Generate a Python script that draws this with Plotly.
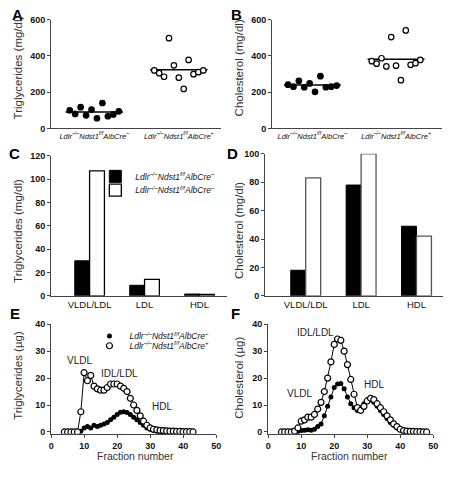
import plotly.graph_objects as go

FONT = "Liberation Sans, Arial, sans-serif"
W, H = 452, 479

# ---------------- data ----------------
group_labels = [
    "<i>Ldlr<sup>–/–</sup>Ndst1<sup>f/f</sup>AlbCre<sup>–</sup></i>",
    "<i>Ldlr<sup>–/–</sup>Ndst1<sup>f/f</sup>AlbCre<sup>+</sup></i>",
]
legend_neg = "<i>Ldlr<sup>–/–</sup>Ndst1<sup>f/f</sup>AlbCre<sup>–</sup></i>"
legend_pos_c = "<i>Ldlr<sup>–/–</sup>Ndst1<sup>f/f</sup>AlbCre<sup>–</sup></i>"
legend_pos_e = "<i>Ldlr<sup>–/–</sup>Ndst1<sup>f/f</sup>AlbCre<sup>+</sup></i>"

# Panel A: plasma triglycerides (mg/dl)
tg_cre_neg = [100, 80, 117, 72, 104, 56, 140, 67, 77, 94]
tg_cre_pos = [320, 305, 285, 498, 348, 280, 218, 378, 299, 310, 320]
# Panel B: plasma cholesterol (mg/dl)
chol_cre_neg = [241, 230, 262, 227, 248, 202, 288, 227, 230, 236]
chol_cre_pos = [371, 357, 387, 342, 504, 346, 266, 541, 351, 360, 378]

# Panels C/D: lipoprotein classes
lipo_classes = ["VLDL/LDL", "LDL", "HDL"]
tg_class_neg = [30, 9, 1.5]
tg_class_pos = [107, 14, 1.2]
chol_class_neg = [18, 78, 49]
chol_class_pos = [83, 100, 42]

# Panel E: FPLC triglycerides (µg) per fraction
fractions_e = list(range(4, 44))
tg_frac_neg = [0, 0, 0, 0, 0, 0.3, 1.5, 2, 1.5, 2.5, 2, 2.5, 3, 3.5, 4.5, 5.5,
               6.5, 7.3, 7.5, 7.2, 6.5, 5.5, 4.5, 3.5, 2.5, 1.5, 1, 0.5, 0.3,
               0, 0, 0, 0, 0, 0, 0, 0, 0, 0, 0]
tg_frac_pos = [0, 0, 0, 0, 0, 7.5, 22, 19, 21, 17, 16, 15.5, 15.5, 16.5, 17.8,
               17.8, 17.8, 17, 16.2, 15, 12.5, 10, 8, 6, 4, 2.5, 1.5, 1, 0.8,
               0.6, 0.5, 0.4, 0.3, 0.3, 0.2, 0.2, 0.1, 0.1, 0.1, 0]
# Panel F: FPLC cholesterol (µg) per fraction
fractions_f = list(range(4, 49))
chol_frac_neg = [0, 0, 0, 0, 0, 0.2, 0.5, 0.6, 0.8, 0.6, 1, 2, 3, 6, 9.5, 13,
                 16.5, 17.8, 18, 16, 13, 10.5, 9, 8, 9, 10.5, 12, 12, 11, 9.5,
                 8, 6.5, 5, 3.5, 2.5, 1.5, 0.7, 0.3, 0.1, 0, 0, 0, 0, 0, 0]
chol_frac_pos = [0, 0, 0, 0, 0.3, 1.5, 4, 4.5, 5.5, 5.5, 6.5, 8.5, 11, 15, 20,
                 26, 32.5, 34.5, 34, 30, 25, 19.5, 14, 9, 8, 9.5, 11.5, 12.5,
                 12, 10.5, 9, 7.5, 6, 4.5, 3, 2, 1, 0.5, 0.3, 0.2, 0.2, 0.1,
                 0.1, 0, 0]


def px(x):
    return x / W


def py(y):
    return 1 - y / H


def spread(center, n, width=0.58):
    return [center + (i - (n - 1) / 2) * width / (n - 1) for i in range(n)]


def mean(v):
    return sum(v) / len(v)


fig = go.Figure()

# ---------- A & B: dot plots ----------
for (neg, pos, xa, ya) in [(tg_cre_neg, tg_cre_pos, "x", "y"),
                           (chol_cre_neg, chol_cre_pos, "x2", "y2")]:
    for c, vals, filled in [(1, neg, True), (2, pos, False)]:
        m = mean(vals)
        fig.add_trace(go.Scatter(
            x=[c - 0.34, c + 0.34], y=[m, m], mode="lines",
            line=dict(color="black", width=1.5), xaxis=xa, yaxis=ya,
            showlegend=False, hoverinfo="skip"))
        fig.add_trace(go.Scatter(
            x=spread(c, len(vals)), y=vals, mode="markers",
            marker=dict(size=5.5, color="black" if filled else "white",
                        line=dict(color="black", width=1.2)),
            xaxis=xa, yaxis=ya, showlegend=False))

# ---------- C & D: bars ----------
fig.add_trace(go.Bar(x=lipo_classes, y=tg_class_neg, name=legend_neg,
                     marker=dict(color="black", line=dict(color="black", width=1)),
                     xaxis="x3", yaxis="y3", legend="legend"))
fig.add_trace(go.Bar(x=lipo_classes, y=tg_class_pos, name=legend_pos_c,
                     marker=dict(color="white", line=dict(color="black", width=1.3)),
                     xaxis="x3", yaxis="y3", legend="legend2"))
fig.add_trace(go.Bar(x=lipo_classes, y=chol_class_neg, showlegend=False,
                     marker=dict(color="black", line=dict(color="black", width=1)),
                     xaxis="x4", yaxis="y4"))
fig.add_trace(go.Bar(x=lipo_classes, y=chol_class_pos, showlegend=False,
                     marker=dict(color="white", line=dict(color="#555", width=1.3)),
                     xaxis="x4", yaxis="y4"))

# ---------- E & F: FPLC profiles ----------
for (fr, neg, pos, xa, ya, leg) in [
        (fractions_e, tg_frac_neg, tg_frac_pos, "x5", "y5", True),
        (fractions_f, chol_frac_neg, chol_frac_pos, "x6", "y6", False)]:
    fig.add_trace(go.Scatter(x=fr, y=neg, mode="lines",
                             line=dict(color="black", width=1),
                             xaxis=xa, yaxis=ya, showlegend=False, hoverinfo="skip"))
    fig.add_trace(go.Scatter(x=fr, y=neg, mode="markers", name=legend_neg,
                             marker=dict(size=5, color="black"),
                             xaxis=xa, yaxis=ya, showlegend=leg, legend="legend3"))
    fig.add_trace(go.Scatter(x=fr, y=pos, mode="lines",
                             line=dict(color="black", width=1),
                             xaxis=xa, yaxis=ya, showlegend=False, hoverinfo="skip"))
    fig.add_trace(go.Scatter(x=fr, y=pos, mode="markers", name=legend_pos_e,
                             marker=dict(size=6, color="white",
                                         line=dict(color="black", width=1.2)),
                             xaxis=xa, yaxis=ya, showlegend=leg, legend="legend4"))

tickfont_bold = dict(family=FONT, size=9, color="#111", weight="bold")
common = dict(showline=True, linecolor="#444", linewidth=1.3, showgrid=False,
              zeroline=False, ticks="outside", ticklen=3, tickwidth=1.2,
              tickcolor="#444", tickfont=tickfont_bold, fixedrange=True)


def xax(dom, rng, **kw):
    d = dict(common)
    d.update(domain=[px(dom[0]), px(dom[1])], range=rng)
    d.update(kw)
    return d


def yax(dom, rng, anchor, **kw):
    d = dict(common)
    d.update(domain=[py(dom[1]), py(dom[0])], range=rng, anchor=anchor)
    d.update(kw)
    return d


cat_font = dict(family=FONT, size=7.5, color="#111")
class_font = dict(family=FONT, size=9.5, color="#111")

fig.update_layout(
    width=W, height=H, margin=dict(l=0, r=0, t=0, b=0),
    paper_bgcolor="white", plot_bgcolor="white",
    barmode="group", bargap=0.46, bargroupgap=0,
    font=dict(family=FONT, color="#222"),
    # A
    xaxis=xax((49, 222), [0.49, 2.5], anchor="y", tickvals=[1, 2],
              ticktext=group_labels, ticks="", tickfont=cat_font),
    yaxis=yax((15, 126), [0, 600], "x", tickvals=[0, 200, 400, 600]),
    # B
    xaxis2=xax((274, 447), [0.52, 2.55], anchor="y2", tickvals=[1, 2],
               ticktext=group_labels, ticks="", tickfont=cat_font),
    yaxis2=yax((15, 126), [0, 600], "x2", tickvals=[0, 200, 400, 600]),
    # C
    xaxis3=xax((49, 228), [-0.7, 2.5], anchor="y3", type="category",
               ticks="", tickfont=class_font),
    yaxis3=yax((154, 297), [0, 120], "x3", dtick=20),
    # D
    xaxis4=xax((267, 448), [-0.73, 2.48], anchor="y4", type="category",
               ticks="", tickfont=class_font),
    yaxis4=yax((152, 297), [0, 100], "x4", dtick=20),
    # E
    xaxis5=xax((49, 217), [0, 50], anchor="y5", dtick=10),
    yaxis5=yax((326, 438), [-0.7, 40], "x5", tickvals=[0, 10, 20, 30, 40]),
    # F
    xaxis6=xax((270, 438), [0, 50], anchor="y6", dtick=10),
    yaxis6=yax((326, 438), [-0.7, 40], "x6", tickvals=[0, 10, 20, 30, 40]),
)

leg_common = dict(xanchor="left", yanchor="middle", bgcolor="rgba(0,0,0,0)",
                  borderwidth=0, font=dict(family=FONT, size=8.5, color="#111"),
                  itemclick=False, itemdoubleclick=False)
fig.update_layout(
    legend=dict(x=px(94), y=py(175), **leg_common),
    legend2=dict(x=px(94), y=py(189), **leg_common),
    legend3=dict(x=px(88), y=py(338), **leg_common),
    legend4=dict(x=px(88), y=py(348), **leg_common),
)

annots = []
# panel letters
for letter, x, y in [("A", 15, 10), ("B", 238, 10), ("C", 12, 152),
                     ("D", 234, 152), ("E", 12, 315), ("F", 237, 315)]:
    annots.append(dict(text=letter, x=px(x), y=py(y), xref="paper", yref="paper",
                       showarrow=False, xanchor="center", yanchor="middle",
                       font=dict(family=FONT, size=15, color="black", weight="bold")))
# y-axis titles
for t, x, y in [("Triglycerides (mg/dl)", 15, 64), ("Cholesterol (mg/dl)", 240, 64),
                ("Triglycerides (mg/dl)", 15, 231), ("Cholesterol (mg/dl)", 240, 230),
                ("Triglycerides (µg)", 15, 378), ("Cholesterol (µg)", 240, 381)]:
    annots.append(dict(text=t, x=px(x), y=py(y), xref="paper", yref="paper",
                       showarrow=False, textangle=-90, xanchor="center",
                       yanchor="middle",
                       font=dict(family=FONT, size=11.5, color="#333")))
# x-axis titles
for x in (135, 353):
    annots.append(dict(text="Fraction number", x=px(x), y=py(461), xref="paper",
                       yref="paper", showarrow=False, xanchor="center",
                       yanchor="middle", font=dict(family=FONT, size=10.5, color="#333")))
# peak labels
for t, x, y in [("VLDL", 78, 363), ("IDL/LDL", 119, 376), ("HDL", 162, 410),
                ("IDL/LDL", 318, 334), ("VLDL", 302, 397), ("HDL", 378, 388)]:
    annots.append(dict(text=t, x=px(x), y=py(y), xref="paper", yref="paper",
                       showarrow=False, xanchor="center", yanchor="middle",
                       font=dict(family=FONT, size=10, color="#222")))
fig.update_layout(annotations=annots)

fig.write_html(
    "out.html",
    config={"displayModeBar": False, "staticPlot": False},
    post_script="document.body.style.margin='0px';document.body.style.padding='0px';",
)
